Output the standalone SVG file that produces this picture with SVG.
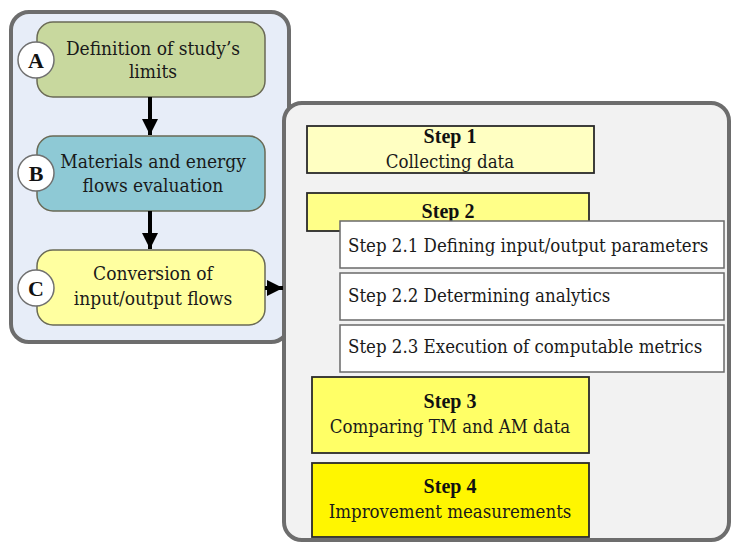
<svg xmlns="http://www.w3.org/2000/svg" width="732" height="544" viewBox="0 0 732 544">
<style>
.panel{stroke:#6d6d6d;stroke-width:4}
.rbox{stroke:#6a6a55;stroke-width:1.5}
.circ{fill:#ffffff;stroke:#707070;stroke-width:1.5}
.t,.st{font-family:'DejaVu Serif Condensed','DejaVu Serif',serif;font-stretch:condensed;fill:#1a1a1a}
.lt,.sb{font-family:'Liberation Serif','DejaVu Serif',serif;font-weight:bold;fill:#111;text-anchor:middle}
.t{font-size:19px}
.tc{text-anchor:middle}
.lt{font-size:22px}
.sb{font-size:20px}
.st{font-size:18.5px}
.step{stroke:#2a2a2a;stroke-width:1.8}
.sub{fill:#ffffff;stroke:#6a6a6a;stroke-width:1.5}
.conn{stroke:#000;stroke-width:4;fill:none}
</style>
<defs>
<marker id="ah" markerUnits="userSpaceOnUse" markerWidth="18" markerHeight="18" viewBox="0 0 18 18" refX="16" refY="9" orient="auto">
<path d="M0,1 L16,9 L0,17 Z" fill="#000"/>
</marker>
</defs>

<g id="left-panel">
<rect class="panel" x="11" y="12" width="278" height="330" rx="18" fill="#e7edf8"/>
</g>

<g id="nodeA">
<rect class="rbox" x="37" y="22" width="228" height="75" rx="16" fill="#c8d89e"/>
<text class="t tc" x="153" y="55">Definition of study’s</text>
<text class="t tc" x="153" y="78">limits</text>
<circle class="circ" cx="36" cy="60" r="18"/>
<text class="lt" x="36" y="68">A</text>
</g>

<g id="nodeB">
<rect class="rbox" x="37" y="136" width="228" height="75" rx="16" fill="#8ec9d5"/>
<text class="t tc" x="153" y="168">Materials and energy</text>
<text class="t tc" x="153" y="192">flows evaluation</text>
<circle class="circ" cx="36" cy="173" r="18"/>
<text class="lt" x="36" y="181">B</text>
</g>

<g id="nodeC">
<rect class="rbox" x="37" y="250" width="228" height="75" rx="16" fill="#ffffa0"/>
<text class="t tc" x="153" y="280">Conversion of</text>
<text class="t tc" x="153" y="305">input/output flows</text>
<circle class="circ" cx="36" cy="288" r="18"/>
<text class="lt" x="36" y="296">C</text>
</g>

<g id="right-panel">
<rect class="panel" x="284" y="103" width="445" height="437" rx="18" fill="#f2f2f2"/>
</g>

<g id="step1">
<rect class="step" x="307" y="126" width="287" height="47" fill="#ffffc2"/>
<text class="sb" x="450" y="143">Step 1</text>
<text class="st tc" x="450" y="168">Collecting data</text>
</g>

<g id="step2">
<rect class="step" x="307" y="193" width="282" height="38" fill="#ffff88"/>
<text class="sb" x="448" y="218">Step 2</text>
</g>

<g id="step2-1">
<rect class="sub" x="340" y="221" width="384" height="47"/>
<text class="st" x="348" y="252">Step 2.1 Defining input/output parameters</text>
</g>

<g id="step2-2">
<rect class="sub" x="340" y="273" width="384" height="47"/>
<text class="st" x="348" y="302">Step 2.2 Determining analytics</text>
</g>

<g id="step2-3">
<rect class="sub" x="340" y="325" width="384" height="47"/>
<text class="st" x="348" y="353">Step 2.3 Execution of computable metrics</text>
</g>

<g id="step3">
<rect class="step" x="312" y="377" width="277" height="76" fill="#ffff66"/>
<text class="sb" x="450" y="408">Step 3</text>
<text class="st tc" x="450" y="433">Comparing TM and AM data</text>
</g>

<g id="step4">
<rect class="step" x="312" y="463" width="277" height="74" fill="#fff600"/>
<text class="sb" x="450" y="493">Step 4</text>
<text class="st tc" x="450" y="518">Improvement measurements</text>
</g>

<g id="connectors">
<line class="conn" x1="150" y1="97" x2="150" y2="135" marker-end="url(#ah)"/>
<line class="conn" x1="150" y1="211" x2="150" y2="249" marker-end="url(#ah)"/>
<line class="conn" x1="265" y1="288" x2="283" y2="288" marker-end="url(#ah)"/>
</g>
</svg>
